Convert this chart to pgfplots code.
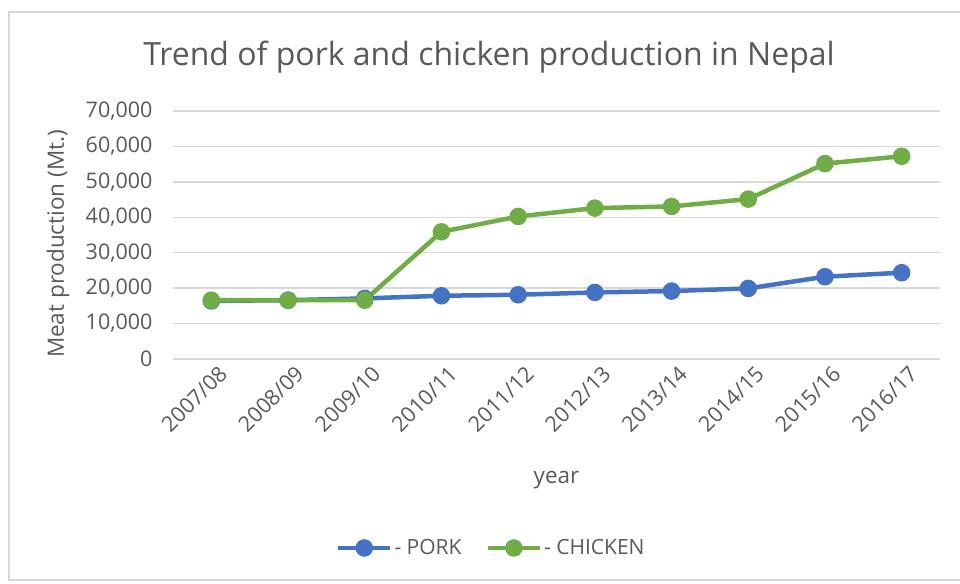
\documentclass[border=0pt]{standalone}
\usepackage{pgfplots}
\pgfplotsset{compat=1.18}
\usepackage{fontspec}
\setmainfont{Open Sans}
\definecolor{pork}{HTML}{4472C4}
\definecolor{chick}{HTML}{70AD47}
\definecolor{txt}{HTML}{595959}
\definecolor{gridc}{HTML}{D9D9D9}
\begin{document}
\begin{tikzpicture}
\path[use as bounding box] (0pt,0pt) rectangle (960pt,583pt);
\draw[gridc, line width=1.5pt] (960pt,571pt) -- (9pt,571pt) -- (9pt,3pt) -- (960pt,3pt);
\node[txt, font=\fontsize{32}{38}\selectfont] at (489pt,526pt) {Trend of pork and chicken production in Nepal};
\begin{axis}[
  at={(173pt,224pt)}, anchor=south west,
  width=767pt, height=248pt, scale only axis,
  xmin=-0.5, xmax=9.5, ymin=0, ymax=70000,
  xtick={0,...,9},
  xticklabels={2007/08,2008/09,2009/10,2010/11,2011/12,2012/13,2013/14,2014/15,2015/16,2016/17},
  ytick={0,10000,...,70000},
  scaled y ticks=false,
  yticklabel style={/pgf/number format/fixed, /pgf/number format/1000 sep={,}, /pgf/number format/assume math mode=true},
  axis line style={draw=none},
  major tick length=0pt,
  ymajorgrids, grid style={gridc, line width=1.5pt},
  tick label style={txt, font=\fontsize{21.5}{25}\selectfont},
  yticklabel style={anchor=east, xshift=-17pt},
  xticklabel style={rotate=45, anchor=east, yshift=-16pt, xshift=4pt},
  xlabel={year}, ylabel={Meat production (Mt.)},
  label style={txt, font=\fontsize{22.5}{26}\selectfont},
  xlabel style={at={(0.5,-0.488)}, anchor=center},
  ylabel style={at={(-0.150,0.464)}, anchor=center},
  legend columns=2,
  legend style={at={(0.415,-0.762)}, anchor=center, draw=none, fill=none,
    font=\fontsize{21}{25}\selectfont, text=txt,
    /tikz/every even column/.append style={column sep=22pt}},
  legend image code/.code={\draw[mark repeat=2,mark phase=2,#1] plot coordinates {(0pt,0pt) (26pt,0pt) (52pt,0pt)};},
  every axis plot/.append style={line width=4.5pt, mark=*, mark size=6.5pt},
  clip=false,
]
\addplot[pork, mark options={fill=pork, draw=pork}] coordinates {
(0,16400) (1,16600) (2,17100) (3,17850) (4,18130) (5,18790) (6,19170) (7,19920) (8,23230) (9,24360)};
\addplot[chick, mark options={fill=chick, draw=chick}] coordinates {
(0,16600) (1,16600) (2,16600) (3,35900) (4,40230) (5,42590) (6,43060) (7,45140) (8,55150) (9,57220)};
\legend{- PORK, - CHICKEN}
\end{axis}
\end{tikzpicture}
\end{document}
